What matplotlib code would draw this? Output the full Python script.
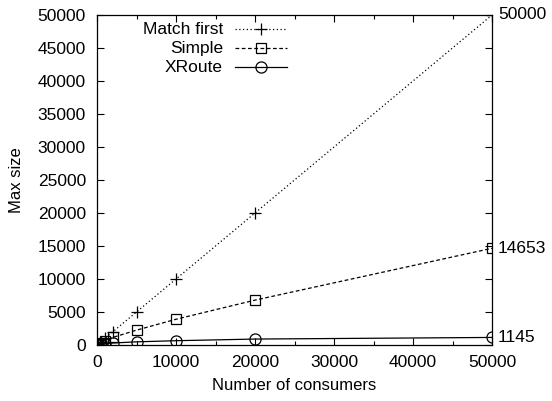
import numpy as np
import matplotlib.pyplot as plt
from matplotlib.lines import Line2D
from matplotlib.ticker import MultipleLocator

plt.rcParams['font.family'] = ['Liberation Sans', 'DejaVu Sans']

# data
consumers = [10, 100, 500, 1000, 2000, 5000, 10000, 20000, 50000]
match_first = [10, 100, 500, 1000, 2000, 5000, 10000, 20000, 50000]
simple = [15, 100, 350, 650, 1150, 2250, 3900, 6800, 14653]
xroute = [10, 60, 150, 200, 300, 480, 650, 900, 1145]
series_names = ['Match first', 'Simple', 'XRoute']

FS = 12.5
W, H = 552, 401

fig = plt.figure(figsize=(5.52, 4.01), dpi=100)
ax = fig.add_axes([97 / W, 1 - 345 / H, (492 - 97) / W, (345 - 15) / H])

styles = [
    dict(linestyle=(0, (1, 2)), marker='+', markersize=8),
    dict(linestyle=(0, (3, 2)), marker='s', markersize=7, markerfacecolor='none'),
    dict(linestyle='-', marker='o', markersize=8, markerfacecolor='none'),
]
for ys, st in zip([match_first, simple, xroute], styles):
    ax.plot(consumers, ys, color='black', linewidth=0.9, markeredgewidth=0.9, **st)

ax.set_xlim(0, 50000)
ax.set_ylim(0, 50000)
ax.xaxis.set_major_locator(MultipleLocator(10000))
ax.xaxis.set_minor_locator(MultipleLocator(5000))
ax.yaxis.set_major_locator(MultipleLocator(5000))
ax.tick_params(which='both', direction='in', top=True, right=True, labelsize=FS)
ax.tick_params(which='major', length=5, width=0.8)
ax.tick_params(which='minor', length=3, width=0.8)
ax.tick_params(axis='y', pad=8)
ax.tick_params(axis='x', pad=7)
for s in ax.spines.values():
    s.set_linewidth(0.9)

ax.set_xlabel('Number of consumers', fontsize=12, labelpad=6)
ax.set_ylabel('Max size', fontsize=12, labelpad=10)

# end labels on the right
for ys in [match_first, simple, xroute]:
    ax.text(1.015, ys[-1], str(ys[-1]), transform=ax.get_yaxis_transform(),
            ha='left', va='center', fontsize=FS)

# gnuplot-style key: right-aligned text, then sample line with marker
for i, (name, st) in enumerate(zip(series_names, styles)):
    yk = 1 - (29 + 19 * i) / H
    fig.text(223 / W, yk, name, ha='right', va='center', fontsize=FS)
    fig.add_artist(Line2D([235 / W, 287 / W], [yk, yk], transform=fig.transFigure,
                          color='black', linewidth=0.9, linestyle=st['linestyle']))
    fig.add_artist(Line2D([261 / W], [yk], transform=fig.transFigure, color='black',
                          linestyle='none', marker=st['marker'],
                          markersize=st['markersize'], markeredgewidth=0.9,
                          markerfacecolor='none'))

fig.savefig('out.png', dpi=100)
